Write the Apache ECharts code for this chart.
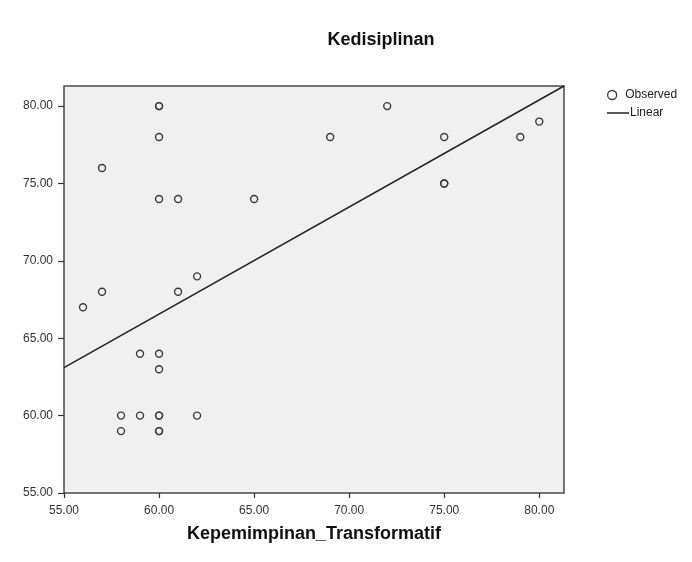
<!DOCTYPE html>
<html><head><meta charset="utf-8">
<script src="https://cdn.jsdelivr.net/npm/echarts@6/dist/echarts.min.js"></script>
<style>html,body{margin:0;padding:0;background:#fff}#c{width:692px;height:562px}</style>
</head><body><div id="c"></div>
<script>
var chartTitle = 'Kedisiplinan';
var xAxisName = 'Kepemimpinan_Transformatif';
var xTicks = [55, 60, 65, 70, 75, 80];
var yTicks = [55, 60, 65, 70, 75, 80];
var xRange = [55, 81.3];
var yRange = [55, 81.3];
// Observed points
var obsX = [60, 60, 72, 60, 69, 75, 79, 80, 57, 75, 75, 60, 61, 65, 62, 57, 61, 56, 59, 60, 60, 58, 59, 60, 60, 62, 58, 60, 60];
var obsY = [80, 80, 80, 78, 78, 78, 78, 79, 76, 75, 75, 74, 74, 74, 69, 68, 68, 67, 64, 64, 63, 60, 60, 60, 60, 60, 59, 59, 59];
// Linear fit line endpoints
var fitX = [55, 81.3];
var fitY = [63.1, 81.3];

var font = 'Liberation Sans, Arial, sans-serif';
var chart = echarts.init(document.getElementById('c'), null, {renderer: 'canvas'});
chart.setOption({
  backgroundColor: '#fff',
  animation: false,
  title: {
    text: chartTitle, left: 381, top: 31, textAlign: 'center', padding: 0,
    textStyle: {fontFamily: font, fontSize: 18, fontWeight: 'bold', color: '#111'}
  },
  legend: [{
    data: ['Observed'], left: 607, top: 89, orient: 'vertical',
    itemWidth: 16, itemHeight: 9, padding: 0,
    itemStyle: {borderWidth: 1.3},
    textStyle: {fontFamily: font, fontSize: 12, color: '#222'}
  }, {
    data: [{name: 'Linear', icon: 'rect'}], left: 607, top: 107, orient: 'vertical',
    itemWidth: 22, itemHeight: 1.5, padding: 0, itemGap: 0,
    textStyle: {fontFamily: font, fontSize: 12, color: '#222', padding: [0, 0, 0, -4]}
  }],
  grid: {
    left: 64, top: 86, right: 128, bottom: 69,
    show: true, backgroundColor: '#f0f0f0', borderColor: '#4a4a4a', borderWidth: 1.5
  },
  xAxis: {
    type: 'value', min: xRange[0], max: xRange[1], interval: 5,
    name: xAxisName, nameLocation: 'middle', nameGap: 32,
    nameTextStyle: {fontFamily: font, fontSize: 18, fontWeight: 'bold', color: '#111'},
    axisLine: {show: false},
    splitLine: {show: false},
    axisTick: {show: true, length: 5, customValues: xTicks, lineStyle: {color: '#333', width: 1.2}},
    axisLabel: {customValues: xTicks, margin: 12, fontFamily: font, fontSize: 12, color: '#333',
      formatter: function (v) { return v.toFixed(2); }}
  },
  yAxis: {
    type: 'value', min: yRange[0], max: yRange[1], interval: 5,
    axisLine: {show: false},
    splitLine: {show: false},
    axisTick: {show: true, length: 6, customValues: yTicks, lineStyle: {color: '#333', width: 1.2}},
    axisLabel: {customValues: yTicks, margin: 11, fontFamily: font, fontSize: 12, color: '#333',
      formatter: function (v) { return v.toFixed(2); }}
  },
  series: [{
    name: 'Observed', type: 'scatter', symbol: 'circle', symbolSize: 7,
    itemStyle: {color: 'rgba(0,0,0,0)', borderColor: '#3a3a3a', borderWidth: 1.4, opacity: 1},
    data: obsX.map(function (x, i) { return [x, obsY[i]]; }),
    z: 3
  }, {
    name: 'Linear', type: 'line', symbol: 'none', showSymbol: false,
    lineStyle: {color: '#222', width: 1.5},
    itemStyle: {color: '#222'},
    data: fitX.map(function (x, i) { return [x, fitY[i]]; }),
    z: 2
  }]
});
</script>
</body></html>
